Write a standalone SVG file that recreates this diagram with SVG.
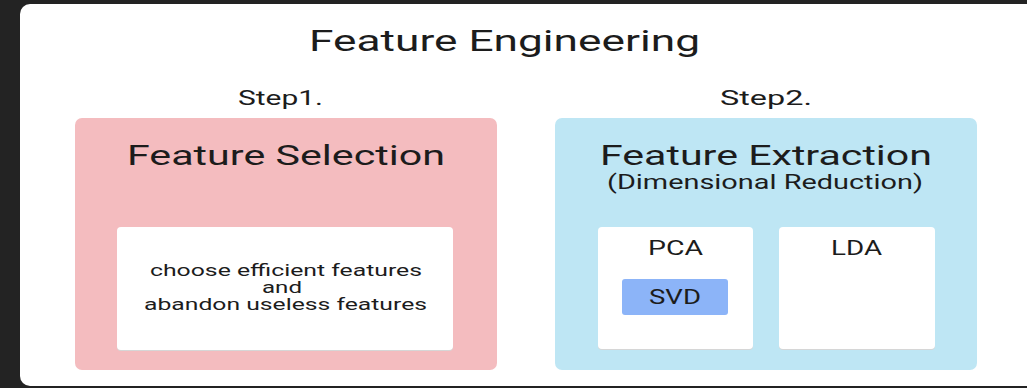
<svg xmlns="http://www.w3.org/2000/svg" width="1027" height="388" viewBox="0 0 1027 388">
<style>
.t{font-family:Roboto,"Liberation Sans",sans-serif;fill:#1c1c1c;text-anchor:middle}
.card{fill:#ffffff}
.shadow{fill:#d6d6d6}
</style>
<rect x="0" y="0" width="1027" height="388" fill="#232323"/>
<rect x="20" y="4" width="1020" height="382" rx="10" fill="#ffffff"/>
<g id="title">
<text class="t" x="504.5" y="51" font-size="29" textLength="391" lengthAdjust="spacingAndGlyphs">Feature Engineering</text>
</g>
<g id="step1">
<text class="t" x="280.5" y="105" font-size="21" textLength="85" lengthAdjust="spacingAndGlyphs">Step1.</text>
</g>
<g id="step2">
<text class="t" x="766" y="105" font-size="21" textLength="92" lengthAdjust="spacingAndGlyphs">Step2.</text>
</g>
<g id="feature-selection">
<rect x="75" y="118" width="422" height="252" rx="7" fill="#f4bcbf"/>
<text class="t" x="286" y="165" font-size="28" textLength="318" lengthAdjust="spacingAndGlyphs">Feature Selection</text>
<rect class="shadow" x="117" y="228" width="336" height="123" rx="4"/>
<rect class="card" x="117" y="227" width="336" height="123" rx="4"/>
<text class="t" x="286" y="276" font-size="17" textLength="272" lengthAdjust="spacingAndGlyphs">choose efficient features</text>
<text class="t" x="282" y="293" font-size="17" textLength="40" lengthAdjust="spacingAndGlyphs">and</text>
<text class="t" x="285.5" y="310" font-size="17" textLength="283" lengthAdjust="spacingAndGlyphs">abandon useless features</text>
</g>
<g id="feature-extraction">
<rect x="555" y="118" width="422" height="252" rx="7" fill="#bee6f4"/>
<text class="t" x="766" y="165" font-size="28" textLength="332" lengthAdjust="spacingAndGlyphs">Feature Extraction</text>
<text class="t" x="765" y="189" font-size="20" textLength="316" lengthAdjust="spacingAndGlyphs">(Dimensional Reduction)</text>
</g>
<g id="pca">
<rect class="shadow" x="598" y="228" width="155" height="122" rx="4"/>
<rect class="card" x="598" y="227" width="155" height="122" rx="4"/>
<text class="t" x="675.5" y="255" font-size="20" textLength="55" lengthAdjust="spacingAndGlyphs">PCA</text>
</g>
<g id="svd">
<rect x="622" y="279" width="106" height="36" rx="3" fill="#8cb4f8"/>
<text class="t" x="675" y="304" font-size="20" textLength="52" lengthAdjust="spacingAndGlyphs">SVD</text>
</g>
<g id="lda">
<rect class="shadow" x="779" y="228" width="156" height="122" rx="4"/>
<rect class="card" x="779" y="227" width="156" height="122" rx="4"/>
<text class="t" x="856.5" y="255" font-size="20" textLength="51" lengthAdjust="spacingAndGlyphs">LDA</text>
</g>
<g id="connectors"></g>
</svg>
